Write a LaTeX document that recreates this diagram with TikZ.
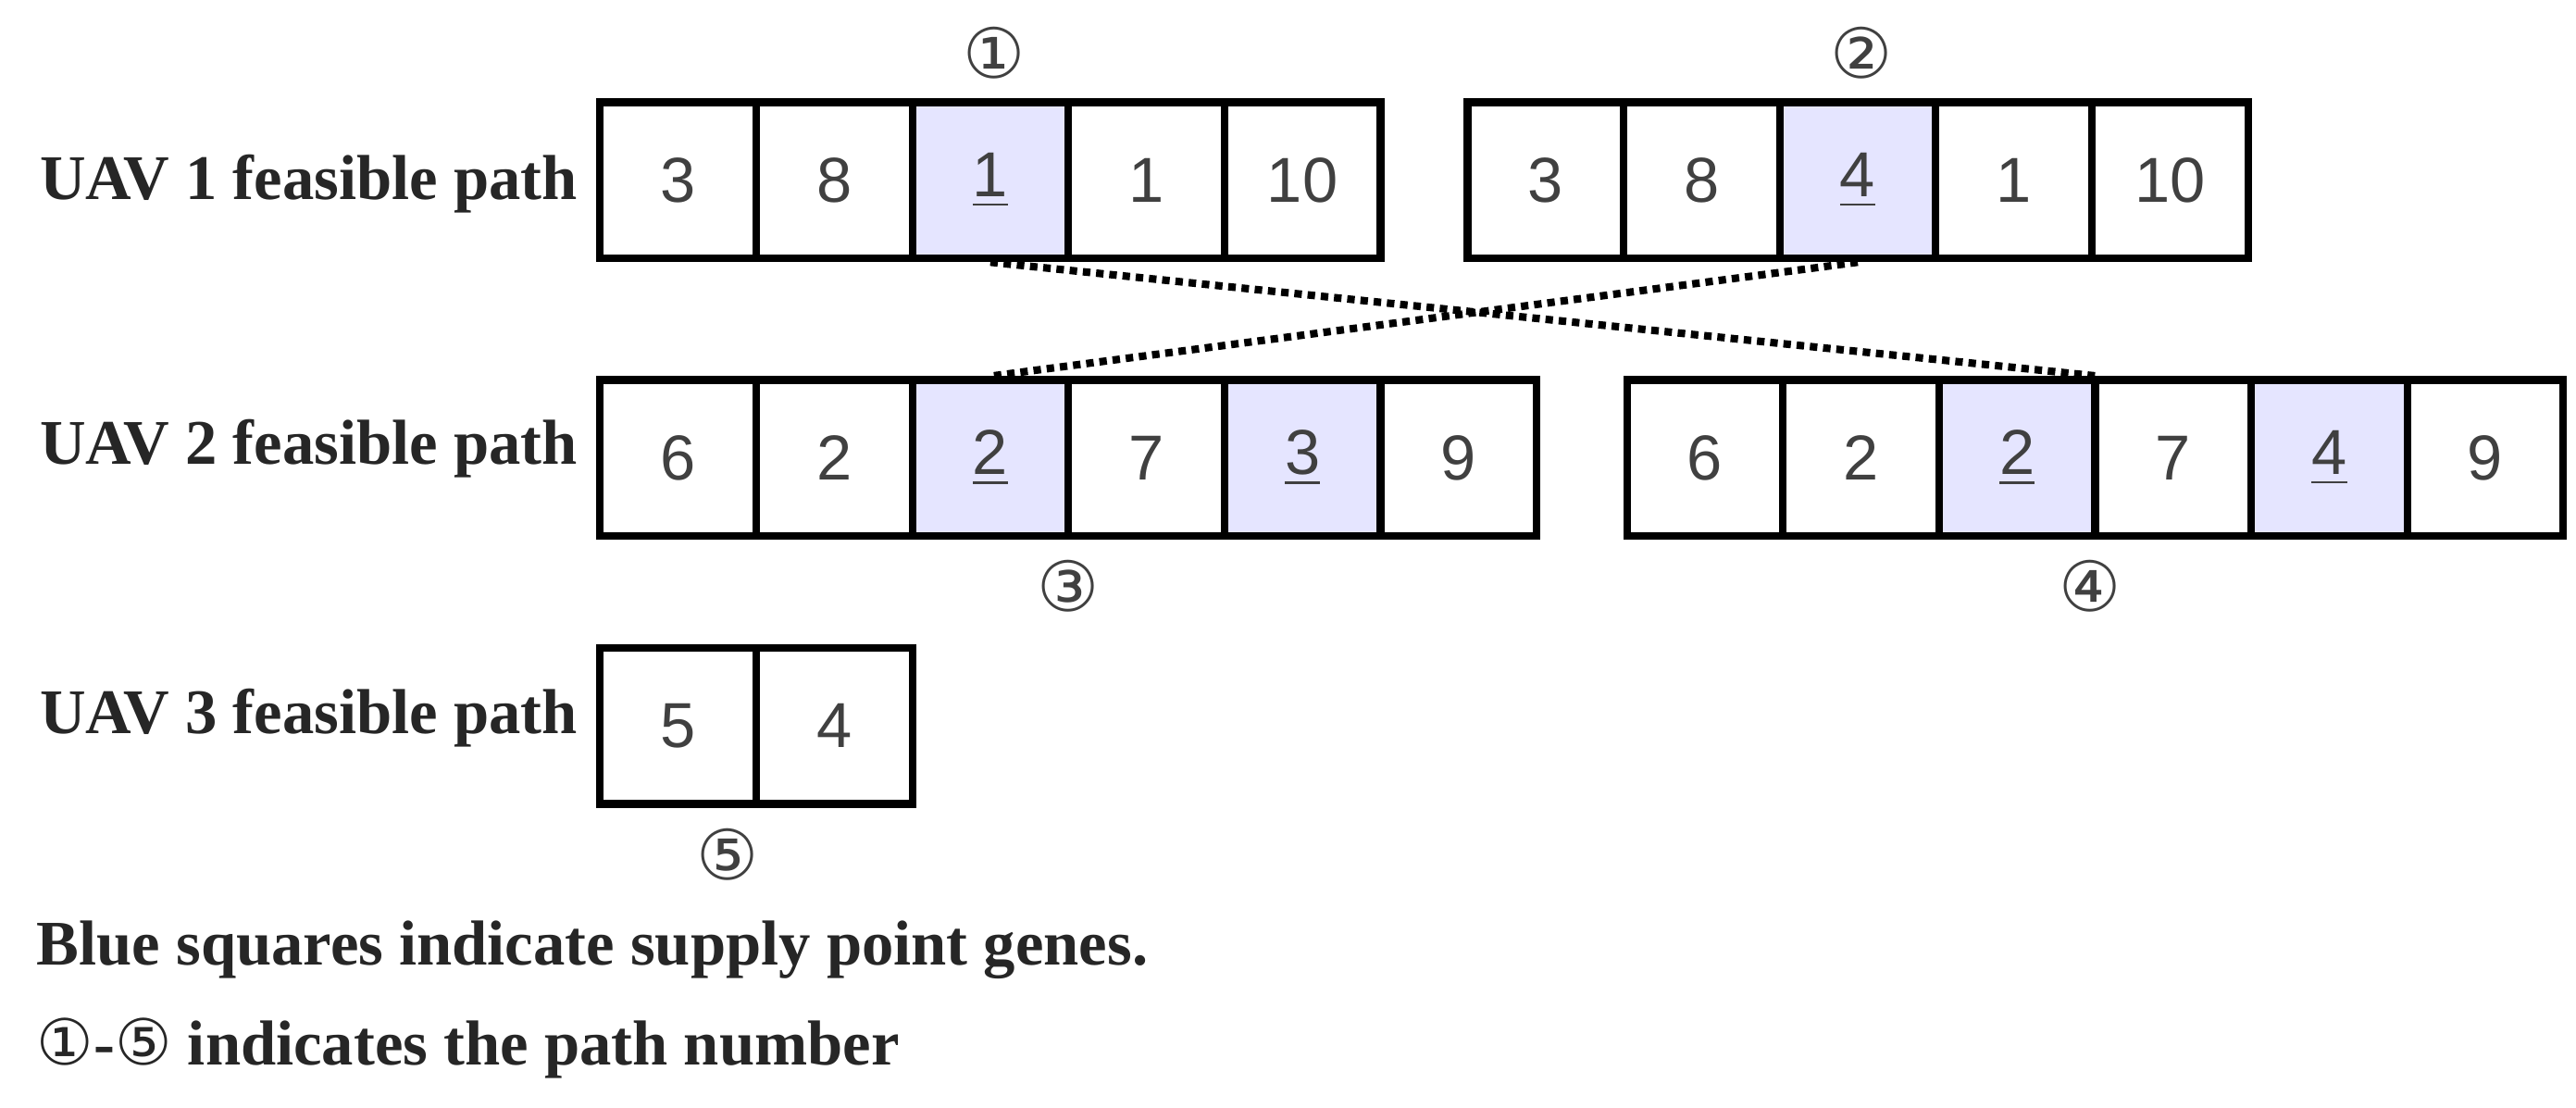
\documentclass[tikz,border=0pt]{standalone}
\usepackage{fontspec}
\setmainfont{Liberation Serif}
\newfontfamily\cellfont{Liberation Sans}
\newfontfamily\cfont{DejaVu Sans}
\begin{document}
\begin{tikzpicture}[x=0.01cm,y=-0.01cm,
  cell/.style={draw=black,line width=1.3pt,minimum width=0.95cm,minimum height=0.95cm,inner sep=0,anchor=north west,font=\cellfont\fontsize{11}{13}\selectfont,text=black!75},
  hl/.style={cell,fill=blue!10},
  lab/.style={font=\bfseries\fontsize{11}{13}\selectfont,anchor=west,text=black!85},
  circ/.style={font=\cfont\fontsize{12}{14}\selectfont,text=black!75},
  dot/.style={densely dotted,line width=1.3pt}]
\useasboundingbox (0,0) rectangle (1568,674);
\node[lab] (l1) at (12,112) {UAV 1 feasible path};
\node[lab] (l2) at (12,273) {UAV 2 feasible path};
\node[lab] (l3) at (12,437) {UAV 3 feasible path};
% row 1
\node[cell] (a1) at (363,60) {3};
\node[cell] (a2) at (458,60) {8};
\node[hl] (a3) at (553,60) {\underline{1}};
\node[cell] (a4) at (648,60) {1};
\node[cell] (a5) at (743,60) {10};
\node[cell] (b1) at (891,60) {3};
\node[cell] (b2) at (986,60) {8};
\node[hl] (b3) at (1081,60) {\underline{4}};
\node[cell] (b4) at (1176,60) {1};
\node[cell] (b5) at (1271,60) {10};
% row 2
\node[cell] (c1) at (363,229) {6};
\node[cell] (c2) at (458,229) {2};
\node[hl] (c3) at (553,229) {\underline{2}};
\node[cell] (c4) at (648,229) {7};
\node[hl] (c5) at (743,229) {\underline{3}};
\node[cell] (c6) at (838,229) {9};
\node[cell] (d1) at (988,229) {6};
\node[cell] (d2) at (1083,229) {2};
\node[hl] (d3) at (1178,229) {\underline{2}};
\node[cell] (d4) at (1273,229) {7};
\node[hl] (d5) at (1368,229) {\underline{4}};
\node[cell] (d6) at (1463,229) {9};
% row 3
\node[cell] (e1) at (363,392) {5};
\node[cell] (e2) at (458,392) {4};
% circled numbers
\node[circ] (n1) at (605,32) {①};
\node[circ] (n2) at (1133,32) {②};
\node[circ] (n3) at (650,357) {③};
\node[circ] (n4) at (1272,357) {④};
\node[circ] (n5) at (443,520) {⑤};
% dotted
\draw[dot] (a3.south) -- (d3.north east);
\draw[dot] (b3.south) -- (c3.north);
\node[lab] (t1) at (10,578) {Blue squares indicate supply point genes.};
\node[lab] (t2) at (10,638) {{\cfont\mdseries ①}-{\cfont\mdseries ⑤} indicates the path number};
\end{tikzpicture}
\end{document}
